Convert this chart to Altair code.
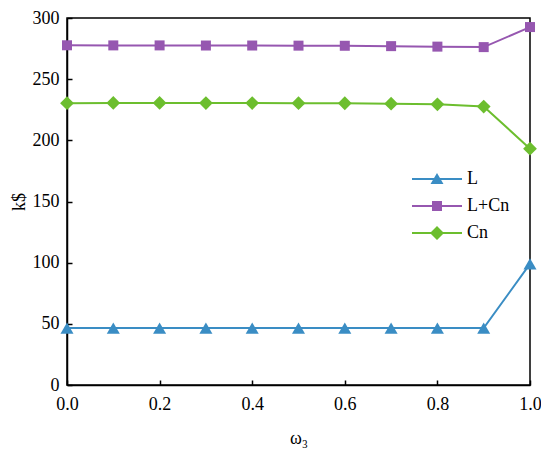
import altair as alt
import pandas as pd

# ---- data ----
omega = [0.0, 0.1, 0.2, 0.3, 0.4, 0.5, 0.6, 0.7, 0.8, 0.9, 1.0]
series_names = ["L", "L+Cn", "Cn"]
L_vals = [46.5, 46.5, 46.5, 46.5, 46.5, 46.5, 46.5, 46.5, 46.5, 46.5, 99.0]
LCn_vals = [277.7, 277.6, 277.6, 277.5, 277.5, 277.4, 277.3, 277.0, 276.6, 276.2, 292.6]
Cn_vals = [230.4, 230.6, 230.6, 230.5, 230.5, 230.4, 230.3, 230.0, 229.4, 227.6, 193.2]
x_ticks = [0.0, 0.2, 0.4, 0.6, 0.8, 1.0]
y_ticks = [0, 50, 100, 150, 200, 250, 300]

# ---- styles ----
colors = ["#3A8DC4", "#9657B0", "#6CBE2E"]
marker_shape = {"L": "triangle-up", "L+Cn": "square", "Cn": "diamond"}
marker_size = {"L": 170, "L+Cn": 100, "Cn": 190}
line_bar = "M-1,-0.04 H1 V0.04 H-1 Z "
legend_paths = [
    line_bar + "M0,-0.24 L0.26,0.2 L-0.26,0.2 Z",
    line_bar + "M-0.2,-0.2 H0.2 V0.2 H-0.2 Z",
    line_bar + "M0,-0.28 L0.28,0 L0,0.28 L-0.28,0 Z",
]

rows = []
for name, vals in zip(series_names, [L_vals, LCn_vals, Cn_vals]):
    for w, v in zip(omega, vals):
        rows.append({"w": w, "v": v, "series": name,
                     "marker": marker_shape[name], "msize": marker_size[name]})
df = pd.DataFrame(rows)

W, H = 463, 367
FONT = "Liberation Serif, Times New Roman, Times, serif"

xscale = alt.Scale(domain=[0, 1], nice=False, zero=False)
yscale = alt.Scale(domain=[0, 300], nice=False)
cscale = alt.Scale(domain=series_names, range=colors)

leg = dict(orient="none", legendX=345, legendY=147.5, title=None,
           symbolSize=2500, clipHeight=27, rowPadding=0, padding=0,
           labelOffset=5, symbolOffset=0, symbolStrokeWidth=0, symbolOpacity=1,
           labelFont=FONT, labelFontSize=18, labelColor="black")

base = alt.Chart(df)

legend_layer = base.mark_point(filled=True, opacity=0).encode(
    x=alt.X("w:Q", scale=xscale, axis=None),
    y=alt.Y("v:Q", scale=yscale, axis=None),
    color=alt.Color("series:N", scale=cscale, legend=alt.Legend(**leg)),
    shape=alt.Shape("series:N", scale=alt.Scale(domain=series_names, range=legend_paths),
                    legend=alt.Legend(**leg)),
)

lines = base.mark_line(strokeWidth=2).encode(
    x=alt.X("w:Q", scale=xscale,
            axis=alt.Axis(values=x_ticks, format=".1f", ticks=False, tickSize=0,
                          labelFlush=False, labelPadding=10, title="ω₃", titlePadding=16)),
    y=alt.Y("v:Q", scale=yscale,
            axis=alt.Axis(values=y_ticks, ticks=False, tickSize=0,
                          labelPadding=8, title="k$", titlePadding=4)),
    color=alt.Color("series:N", scale=cscale, legend=alt.Legend(**leg)),
)

points = base.mark_point(filled=True, opacity=1).encode(
    x=alt.X("w:Q", scale=xscale,
            axis=alt.Axis(orient="top", offset=-H, values=x_ticks, labels=False,
                          domain=False, tickSize=5, title=None)),
    y=alt.Y("v:Q", scale=yscale,
            axis=alt.Axis(orient="right", offset=-W, values=y_ticks, labels=False,
                          domain=False, tickSize=5, title=None)),
    color=alt.Color("series:N", scale=cscale, legend=alt.Legend(**leg)),
    shape=alt.Shape("marker:N", scale=None),
    size=alt.Size("msize:Q", scale=None),
)

chart = (
    alt.layer(legend_layer, lines, points)
    .resolve_axis(x="independent", y="independent")
    .properties(
        width=W, height=H,
        autosize=alt.AutoSizeParams(type="none"),
        padding={"left": 59, "top": 10, "right": 11, "bottom": 65},
    )
    .configure_view(stroke="black", strokeWidth=1.5)
    .configure_axis(
        grid=False, labelFont=FONT, titleFont=FONT, labelFontSize=18, titleFontSize=18,
        titleFontWeight="normal", labelColor="black", titleColor="black",
        domainColor="black", domainWidth=1.5, tickColor="black", tickWidth=1.5,
    )
    .configure_legend(labelFont=FONT)
)

chart.save("out.html", embed_options={"renderer": "svg", "actions": False})
